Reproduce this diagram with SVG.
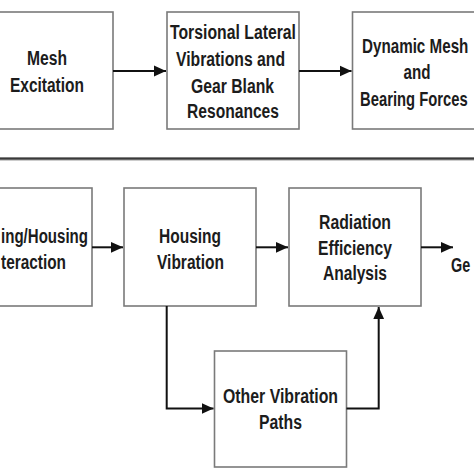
<svg xmlns="http://www.w3.org/2000/svg" width="474" height="474" viewBox="0 0 474 474">
<defs>
<style>
.box{fill:#fff;stroke:#7a7a7a;stroke-width:1.6}
.lbl{font-family:"Liberation Sans",Arial,sans-serif;font-weight:bold;font-size:20px;fill:#1c1c1c}
.con{fill:none;stroke:#111;stroke-width:2}
</style>
<marker id="ah" markerUnits="userSpaceOnUse" markerWidth="12" markerHeight="12" viewBox="0 0 10 10" refX="10" refY="5" orient="auto">
<path d="M0,0.5 L10,5 L0,9.5 Z" fill="#111"/>
</marker>
</defs>
<rect width="474" height="474" fill="#fff"/>
<line x1="0" y1="158.7" x2="474" y2="158.7" stroke="#9a9a9a" stroke-width="3.5"/>
<line x1="0" y1="158.7" x2="474" y2="158.7" stroke="#3a3a3a" stroke-width="1.8"/>
<g id="mesh-excitation">
<rect class="box" x="-20" y="12" width="133" height="117"/>
<text class="lbl" x="27" y="65" textLength="40" lengthAdjust="spacingAndGlyphs">Mesh</text>
<text class="lbl" x="10" y="92" textLength="74" lengthAdjust="spacingAndGlyphs">Excitation</text>
</g>
<g id="torsional">
<rect class="box" x="167" y="12" width="132" height="117"/>
<text class="lbl" x="170" y="39" textLength="126" lengthAdjust="spacingAndGlyphs">Torsional Lateral</text>
<text class="lbl" x="176" y="65.5" textLength="109" lengthAdjust="spacingAndGlyphs">Vibrations and</text>
<text class="lbl" x="191" y="92.5" textLength="83" lengthAdjust="spacingAndGlyphs">Gear Blank</text>
<text class="lbl" x="187" y="118" textLength="92" lengthAdjust="spacingAndGlyphs">Resonances</text>
</g>
<g id="dynamic-mesh">
<rect class="box" x="352.5" y="12" width="135" height="117"/>
<text class="lbl" transform="translate(362,53) scale(0.76,1)">Dynamic Mesh</text>
<text class="lbl" transform="translate(403.5,79) scale(0.76,1)">and</text>
<text class="lbl" transform="translate(360,106) scale(0.74,1)">Bearing Forces</text>
</g>
<g id="bearing-housing">
<rect class="box" x="-20" y="188" width="112" height="118"/>
<text class="lbl" x="1" y="243" textLength="87" lengthAdjust="spacingAndGlyphs">ing/Housing</text>
<text class="lbl" x="1" y="268.5" textLength="65" lengthAdjust="spacingAndGlyphs">teraction</text>
</g>
<g id="housing-vibration">
<rect class="box" x="124" y="188" width="132" height="118"/>
<text class="lbl" x="159" y="243" textLength="62" lengthAdjust="spacingAndGlyphs">Housing</text>
<text class="lbl" x="157" y="268.5" textLength="67" lengthAdjust="spacingAndGlyphs">Vibration</text>
</g>
<g id="radiation">
<rect class="box" x="289" y="188" width="132" height="118"/>
<text class="lbl" x="319" y="229" textLength="72" lengthAdjust="spacingAndGlyphs">Radiation</text>
<text class="lbl" x="318" y="254.5" textLength="74" lengthAdjust="spacingAndGlyphs">Efficiency</text>
<text class="lbl" x="323" y="280" textLength="64" lengthAdjust="spacingAndGlyphs">Analysis</text>
</g>
<g id="noise-generation">
<text class="lbl" transform="translate(451,272) scale(0.72,1)">Ge</text>
</g>
<g id="other-paths">
<rect class="box" x="214.5" y="351" width="132" height="116"/>
<text class="lbl" x="223" y="403" textLength="115" lengthAdjust="spacingAndGlyphs">Other Vibration</text>
<text class="lbl" x="259" y="429" textLength="43" lengthAdjust="spacingAndGlyphs">Paths</text>
</g>
<g id="connectors">
<line class="con" x1="113" y1="71" x2="166" y2="71" marker-end="url(#ah)"/>
<line class="con" x1="299" y1="71" x2="351.5" y2="71" marker-end="url(#ah)"/>
<line class="con" x1="92" y1="247.3" x2="123" y2="247.3" marker-end="url(#ah)"/>
<line class="con" x1="256" y1="247.3" x2="288" y2="247.3" marker-end="url(#ah)"/>
<line class="con" x1="421" y1="247.3" x2="453" y2="247.3" marker-end="url(#ah)"/>
<polyline class="con" points="166.7,306 166.7,408.5 213.5,408.5" marker-end="url(#ah)"/>
<polyline class="con" points="346.5,408.5 378.7,408.5 378.7,307" marker-end="url(#ah)"/>
</g>
</svg>
